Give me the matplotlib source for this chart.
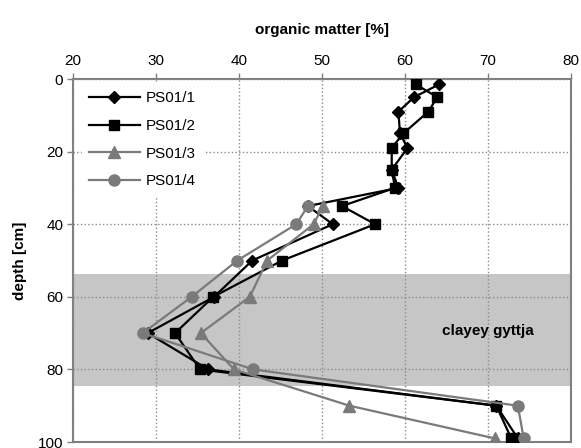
import matplotlib
matplotlib.use("Agg")
import matplotlib.pyplot as plt

plt.rcParams['font.family'] = ['Liberation Sans', 'DejaVu Sans']

# depth [cm] of samples
depth_12 = [1.5, 5, 9, 15, 19, 25, 30, 35, 40, 50, 60, 70, 80, 90, 99]
depth_34 = [35, 40, 50, 60, 70, 80, 90, 99]

# organic matter [%]
ps01_1 = [64.1, 61.1, 59.2, 59.4, 60.3, 58.4, 59.2, 48.3, 51.3, 41.6, 37.0, 29.0, 36.3, 71.0, 73.6]
ps01_2 = [61.3, 63.9, 62.8, 59.8, 58.4, 58.4, 58.8, 52.4, 56.4, 45.2, 36.9, 32.3, 35.3, 71.0, 72.8]
ps01_3 = [50.1, 49.0, 43.4, 41.3, 35.4, 39.4, 53.3, 70.8]
ps01_4 = [48.3, 46.9, 39.8, 34.3, 28.4, 41.7, 73.6, 74.3]

# clayey gyttja layer
gyttja_top, gyttja_bottom = 53.6, 84.7

fig = plt.figure(figsize=(5.81, 4.48), dpi=100)
ax = fig.add_axes([73/581, 1 - 442/448, (571 - 73)/581, (442 - 79)/448])

ax.axhspan(gyttja_top, gyttja_bottom, color='#c6c6c6', lw=0, zorder=0)

black = '#000000'
grey = '#7a7a7a'
ax.plot(ps01_1, depth_12, '-D', color=black, lw=1.6, ms=6.5, label='PS01/1', zorder=3)
ax.plot(ps01_2, depth_12, '-s', color=black, lw=1.6, ms=7.5, label='PS01/2', zorder=3)
ax.plot(ps01_3, depth_34, '-^', color=grey, lw=1.6, ms=8, label='PS01/3', zorder=3)
ax.plot(ps01_4, depth_34, '-o', color=grey, lw=1.6, ms=8, label='PS01/4', zorder=3)

ax.text(70, 69.3, 'clayey gyttja', ha='center', va='center',
        fontsize=11, fontweight='bold', zorder=4)

ax.set_xlim(20, 80)
ax.set_ylim(100, 0)
ax.set_xticks(range(20, 81, 10))
ax.set_yticks(range(0, 101, 20))
ax.xaxis.tick_top()
ax.xaxis.set_label_position('top')
ax.tick_params(axis='x', direction='out', length=4, width=1, color='#808080',
               pad=4, labelsize=11, top=True, bottom=False)
ax.tick_params(axis='y', direction='out', length=4, width=1, color='#808080',
               pad=3, labelsize=11)
ax.set_xlabel('organic matter [%]', fontsize=11, fontweight='bold', labelpad=14)
ax.set_ylabel('depth [cm]', fontsize=11, fontweight='bold', labelpad=8)

ax.grid(True, linestyle=':', color='#8a8a8a', lw=1)
ax.set_axisbelow(False)
for gl in ax.get_xgridlines() + ax.get_ygridlines():
    gl.set_zorder(1)
for sp in ax.spines.values():
    sp.set_color('#808080')
    sp.set_linewidth(1.5)

leg = ax.legend(loc='upper left', bbox_to_anchor=(0.008, 1.0), fontsize=11,
                handlelength=3.3, handletextpad=0.4, labelspacing=0.9,
                borderpad=0.5, borderaxespad=0.3, frameon=True, fancybox=False)
leg.get_frame().set_facecolor('white')
leg.get_frame().set_edgecolor('white')
leg.get_frame().set_alpha(1)
leg.set_zorder(5)

fig.savefig('out.png', dpi=100)
